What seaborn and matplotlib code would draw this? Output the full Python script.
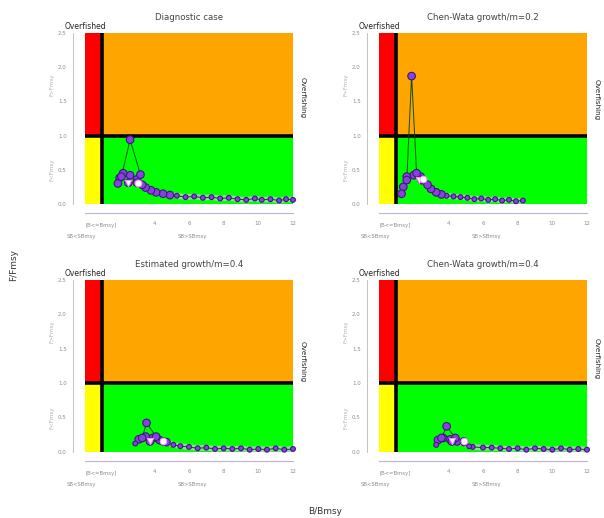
import matplotlib
matplotlib.use("Agg")
import matplotlib.pyplot as plt
import seaborn as sns
import pandas as pd
import numpy as np

sns.set_style("white")
plt.rcParams['font.family'] = ['DejaVu Sans']

# ---------------- data ----------------
titles = ["Diagnostic case", "Chen-Wata growth/m=0.2",
          "Estimated growth/m=0.4", "Chen-Wata growth/m=0.4"]

x_ticks = [0, 2, 4, 6, 8, 10, 12]
x_tick_labels = ["", "", "4", "6", "8", "10", "12"]
y_ticks = [0.0, 0.5, 1.0, 1.5, 2.0, 2.5]
y_tick_labels = ["0.0", "0.5", "1.0", "1.5", "2.0", "2.5"]

B_REF, F_REF = 1.0, 1.0
B_MAX, F_MAX = 12.0, 2.5

# trajectories (B/Bmsy, F/Fmsy)
b_diag = [12.0, 11.6, 11.2, 10.7, 10.2, 9.8, 9.3, 8.8, 8.3, 7.8, 7.3, 6.8, 6.3, 5.8,
          5.3, 4.9, 4.5, 4.1, 3.8, 3.5, 3.3, 3.0, 2.6, 2.2, 2.0, 1.9, 2.1, 2.6, 3.2, 3.0, 2.5]
f_diag = [0.06, 0.07, 0.05, 0.07, 0.06, 0.08, 0.06, 0.07, 0.09, 0.08, 0.10, 0.09, 0.11, 0.10,
          0.12, 0.13, 0.15, 0.17, 0.20, 0.24, 0.28, 0.36, 0.42, 0.45, 0.38, 0.30, 0.40, 0.94,
          0.43, 0.31, 0.31]

b_cw02 = [8.3, 7.9, 7.5, 7.1, 6.7, 6.3, 5.9, 5.5, 5.1, 4.7, 4.3, 3.9, 3.6, 3.3, 3.0,
          2.8, 2.4, 2.0, 1.6, 1.4, 1.3, 1.6, 1.88, 2.17, 2.5, 2.46]
f_cw02 = [0.05, 0.04, 0.06, 0.05, 0.07, 0.06, 0.08, 0.07, 0.09, 0.10, 0.11, 0.12, 0.14, 0.17,
          0.22, 0.28, 0.40, 0.42, 0.40, 0.25, 0.15, 0.35, 1.87, 0.45, 0.35, 0.35]

b_est04 = [12.0, 11.5, 11.0, 10.5, 10.0, 9.5, 9.0, 8.5, 8.0, 7.5, 7.0, 6.5, 6.0, 5.5,
           5.1, 4.7, 4.3, 3.9, 3.5, 3.1, 2.9, 3.3, 3.55, 4.1, 3.75, 4.5]
f_est04 = [0.04, 0.03, 0.05, 0.03, 0.04, 0.03, 0.05, 0.04, 0.05, 0.04, 0.06, 0.05, 0.07, 0.08,
           0.10, 0.14, 0.17, 0.20, 0.22, 0.18, 0.12, 0.20, 0.42, 0.22, 0.15, 0.15]

b_cw04 = [12.0, 11.5, 11.0, 10.5, 10.0, 9.5, 9.0, 8.5, 8.0, 7.5, 7.0, 6.5, 6.0, 5.4,
          5.2, 4.9, 4.5, 4.1, 3.7, 3.4, 3.3, 3.6, 3.9, 4.4, 4.2, 4.9]
f_cw04 = [0.03, 0.04, 0.03, 0.05, 0.03, 0.04, 0.05, 0.03, 0.05, 0.04, 0.05, 0.06, 0.06, 0.07,
          0.08, 0.12, 0.15, 0.18, 0.20, 0.17, 0.10, 0.20, 0.37, 0.20, 0.15, 0.15]

# highlighted (white) points: first, last
hl_b = [[2.5, 3.05], [2.3, 2.55], [3.75, 4.5], [4.2, 4.9]]
hl_f = [[0.31, 0.31], [0.35, 0.37], [0.15, 0.15], [0.15, 0.15]]

panel_b = [b_diag, b_cw02, b_est04, b_cw04]
panel_f = [f_diag, f_cw02, f_est04, f_cw04]
overfishing_y = [1.56, 1.52, 1.31, 1.36]

# ---------------- layout ----------------
W, H = 604, 518
fig = plt.figure(figsize=(W / 100, H / 100), dpi=100)
fig.patch.set_facecolor("white")

xpad, ypad = 0.48, 0.1
positions = [
    (76.7, 26.2, 301.3, 210.8),
    (370.7, 26.2, 595.3, 210.8),
    (76.7, 273.1, 301.3, 458.6),
    (370.7, 273.1, 595.3, 458.6),
]

gray = "#8c8c8c"
for i in range(4):
    l, t, r, b = positions[i]
    ax = fig.add_axes([l / W, 1 - b / H, (r - l) / W, (b - t) / H])
    ax.set_xlim(-xpad, B_MAX + xpad)
    ax.set_ylim(-ypad, F_MAX + ypad)
    ax.set_facecolor("white")

    # quadrants
    ax.fill_between([0, B_REF], F_REF, F_MAX, color="#ff0000", lw=0, zorder=1)
    ax.fill_between([0, B_REF], 0, F_REF, color="#ffff00", lw=0, zorder=1)
    ax.fill_between([B_REF, B_MAX], F_REF, F_MAX, color="#ffa500", lw=0, zorder=1)
    ax.fill_between([B_REF, B_MAX], 0, F_REF, color="#00ff00", lw=0, zorder=1)
    ax.plot([B_REF, B_REF], [0, F_MAX], color="black", lw=2.6, zorder=2, solid_capstyle="butt")
    ax.plot([0, B_MAX], [F_REF, F_REF], color="black", lw=2.6, zorder=2, solid_capstyle="butt")

    df = pd.DataFrame({"B": panel_b[i], "F": panel_f[i]})
    # leading low-F part of the trajectory (before the cluster)
    lead = (df["F"] < 0.2).cummin()
    tail = df[lead]
    ax.plot(tail["B"], tail["F"], color="#cfc8ea", lw=4, alpha=0.75, zorder=3,
            solid_capstyle="round", solid_joinstyle="round")
    sns.lineplot(data=df, x="B", y="F", sort=False, estimator=None, ax=ax,
                 color="#0b4d0b", lw=0.7, zorder=4)
    sizes = np.where(df["F"] > 0.12, 30, 12)
    sns.scatterplot(x=df["B"], y=df["F"], ax=ax, s=sizes, color="#8a3fe0",
                    edgecolor="#3b1a7a", linewidth=0.8, zorder=5, legend=False)
    ax.scatter([hl_b[i][0]], [hl_f[i][0]], marker="v", s=20, color="white",
               edgecolor="#ff8cff", linewidth=0.7, zorder=6)
    ax.scatter([hl_b[i][1]], [hl_f[i][1]], marker="o", s=24, color="white",
               edgecolor="#ff8cff", linewidth=0.7, zorder=6)

    # axes styling
    for s in ["top", "right"]:
        ax.spines[s].set_visible(False)
    ax.spines["left"].set_bounds(0, F_MAX)
    ax.spines["bottom"].set_bounds(0, B_MAX)
    ax.spines["left"].set_position(("outward", 2.7))
    ax.spines["bottom"].set_position(("outward", 1.6))
    ax.spines["left"].set_color("#b8b8b8")
    ax.spines["bottom"].set_color("#bfb2d8")
    ax.spines["left"].set_linewidth(0.6)
    ax.spines["bottom"].set_linewidth(0.8)
    ax.set_xticks(x_ticks)
    ax.set_xticklabels(x_tick_labels)
    ax.set_yticks(y_ticks)
    ax.set_yticklabels(y_tick_labels)
    ax.tick_params(axis="both", length=2.5, width=0.5, color="#9a9a9a",
                   labelsize=4, labelcolor=gray, pad=2)
    ax.tick_params(axis="x", pad=3.5)
    ax.set_xlabel("")
    ax.set_ylabel("")

    ax.set_title(titles[i], fontsize=6.2, color="#444444", pad=4.5)
    ax.text(-1.2, F_MAX + 0.03, "Overfished", fontsize=5.5, color="#222222",
            ha="left", va="bottom", clip_on=False, zorder=7)
    ax.text(B_MAX + 0.55, overfishing_y[i], "Overfishing", fontsize=5.2, color="#222222",
            rotation=270, ha="center", va="center", clip_on=False)
    ax.text(-1.9, 1.75, "F>Fmsy", fontsize=4, color="#b0b0b0", rotation=90,
            ha="center", va="center", clip_on=False)
    ax.text(-1.9, 0.5, "F<Fmsy", fontsize=4, color="#b0b0b0", rotation=90,
            ha="center", va="center", clip_on=False)
    ax.text(0.0, -0.32, "[B<=Bmsy]", fontsize=3.8, color=gray,
            ha="left", va="center", clip_on=False)
    ax.text(-0.2, -0.47, "SB<SBmsy", fontsize=3.8, color=gray,
            ha="center", va="center", clip_on=False)
    ax.text(6.2, -0.47, "SB>SBmsy", fontsize=3.8, color=gray,
            ha="center", va="center", clip_on=False)

fig.text(14 / W, 1 - 265 / H, "F/Fmsy", rotation=90, fontsize=6.5, color="#333333",
         ha="center", va="center")
fig.text(325 / W, 1 - 511 / H, "B/Bmsy", fontsize=6.5, color="#333333",
         ha="center", va="center")

fig.savefig("out.png", dpi=100, facecolor="white")
